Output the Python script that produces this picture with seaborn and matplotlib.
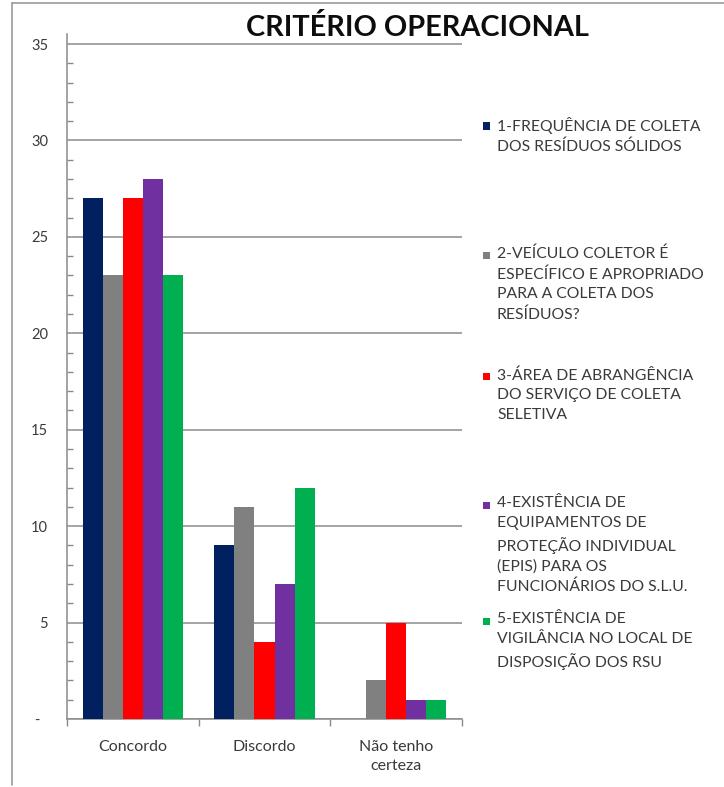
import matplotlib
matplotlib.use("Agg")
import matplotlib.pyplot as plt
from matplotlib.ticker import MultipleLocator, FixedLocator
from matplotlib.patches import Rectangle
from matplotlib.lines import Line2D
import pandas as pd
import seaborn as sns

# --- data ---------------------------------------------------------------
categories = ["Concordo", "Discordo", "Não tenho\ncerteza"]
series = [
    "1-FREQUÊNCIA DE COLETA\nDOS RESÍDUOS SÓLIDOS",
    "2-VEÍCULO COLETOR É\nESPECÍFICO E APROPRIADO\nPARA A COLETA DOS\nRESÍDUOS?",
    "3-ÁREA DE ABRANGÊNCIA\nDO SERVIÇO DE COLETA\nSELETIVA",
    "4-EXISTÊNCIA DE\nEQUIPAMENTOS DE\nPROTEÇÃO INDIVIDUAL\n(EPIS) PARA OS\nFUNCIONÁRIOS DO S.L.U.",
    "5-EXISTÊNCIA DE\nVIGILÂNCIA NO LOCAL DE\nDISPOSIÇÃO DOS RSU",
]
s1_frequencia = [27, 9, 0]
s2_veiculo = [23, 11, 2]
s3_area = [27, 4, 5]
s4_epis = [28, 7, 1]
s5_vigilancia = [23, 12, 1]
colors = ["#002060", "#808080", "#FF0000", "#7030A0", "#00B050"]
y_ticks = [0, 5, 10, 15, 20, 25, 30, 35]
y_tick_labels = ["-  ", "5", "10", "15", "20", "25", "30", "35"]
title = "CRITÉRIO OPERACIONAL"

values = [s1_frequencia, s2_veiculo, s3_area, s4_epis, s5_vigilancia]
df = pd.DataFrame(
    [(cat, s, v[i]) for s, v in zip(series, values) for i, cat in enumerate(categories)],
    columns=["categoria", "serie", "valor"],
)

# --- figure -------------------------------------------------------------
sns.set_theme(style="white")
plt.rcParams["font.family"] = ["Lato", "DejaVu Sans"]

W, H = 724, 787
fig = plt.figure(figsize=(W / 100, H / 100), dpi=100)
fig.patch.set_facecolor("white")

# axis top sits half a unit above the 35 gridline
y_max = 35.5
ax_l, ax_r, ax_b = 67, 462, 719
px_per_unit = (719 - 44) / 35
ax_t = ax_b - y_max * px_per_unit
ax = fig.add_axes([ax_l / W, 1 - ax_b / H, (ax_r - ax_l) / W, (ax_b - ax_t) / H])

sns.barplot(
    data=df, x="categoria", y="valor", hue="serie",
    order=categories, hue_order=series, palette=colors,
    width=0.764, gap=0, saturation=1, legend=False, ax=ax, zorder=3,
)
for p in ax.patches:
    p.set_linewidth(0)

ax.set_xlim(-0.5, len(categories) - 0.5)
ax.set_ylim(0, y_max)
ax.set_xlabel("")
ax.set_ylabel("")

grid_c = "#8c8c8c"
axis_c = "#8a8a8a"
text_c = "#3a3a3a"

# y axis: major gridlines every 5, minor ticks every unit
ax.yaxis.set_major_locator(FixedLocator(y_ticks))
ax.set_yticklabels(y_tick_labels)
ax.yaxis.set_minor_locator(MultipleLocator(1))
ax.grid(axis="y", which="major", color=grid_c, linewidth=1.1, zorder=0)
ax.set_axisbelow(True)
ax.tick_params(axis="y", which="major", direction="out", length=4.5, width=1,
               color=axis_c, labelsize=10.5, labelcolor=text_c, pad=9)
ax.tick_params(axis="y", which="minor", direction="in", length=4.5, width=1,
               color=axis_c, left=True)

# x axis: category labels centred, ticks at the category boundaries
ax.set_xticks(range(len(categories)))
ax.set_xticklabels(categories, linespacing=1.45)
ax.xaxis.set_minor_locator(FixedLocator([i - 0.5 for i in range(len(categories) + 1)]))
ax.tick_params(axis="x", which="major", length=0, labelsize=11.5, labelcolor=text_c, pad=15)
ax.tick_params(axis="x", which="minor", direction="out", length=5, width=1,
               color=axis_c, bottom=True)

for side in ("top", "right"):
    ax.spines[side].set_visible(False)
for side in ("left", "bottom"):
    ax.spines[side].set_color(axis_c)
    ax.spines[side].set_linewidth(1.1)

# title
fig.text(418 / W, 1 - 28 / H, title, ha="center", va="center",
         fontsize=20.8, fontweight="bold", color="#0d0d0d")

# legend entries, each with a colour square beside its first line
leg_rows = [126, 256, 377, 505, 621]
for lab, col, yc in zip(series, colors, leg_rows):
    fig.patches.append(Rectangle((483 / W, 1 - (yc + 3.5) / H), 7 / W, 7 / H,
                                 transform=fig.transFigure, facecolor=col,
                                 edgecolor="none"))
    fig.text(497 / W, 1 - (yc - 9) / H, lab, ha="left", va="top",
             fontsize=11.3, color=text_c, linespacing=1.51)

# chart area border (top and left)
fig.add_artist(Line2D([12 / W, 1], [1 - 3 / H, 1 - 3 / H], transform=fig.transFigure,
                      color="#9a9a9a", linewidth=1.2))
fig.add_artist(Line2D([12 / W, 12 / W], [1 - 3 / H, 1 - 785 / H], transform=fig.transFigure,
                      color="#9a9a9a", linewidth=1.2))

fig.savefig("out.png", dpi=100, facecolor="white")
